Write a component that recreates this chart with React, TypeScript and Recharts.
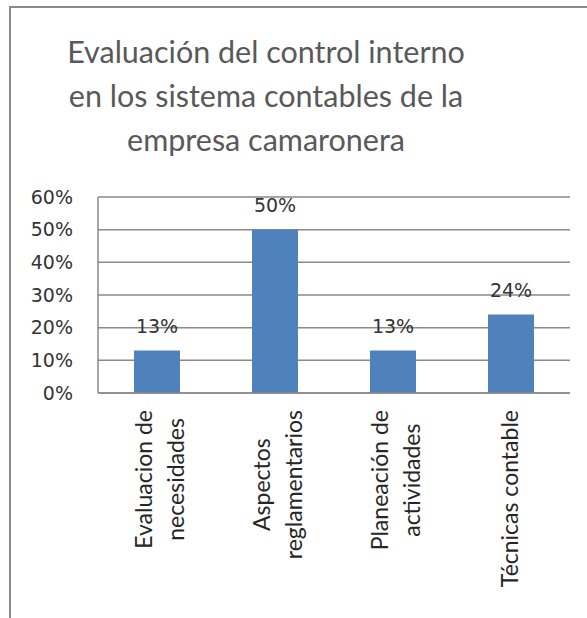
import { Bar, BarChart, CartesianGrid, LabelList, XAxis, YAxis } from "recharts";

const categories = [
  "Evaluacion de\nnecesidades",
  "Aspectos\nreglamentarios",
  "Planeación de\nactividades",
  "Técnicas contable",
];
const values = [13, 50, 13, 24];
const yTicks = [0, 10, 20, 30, 40, 50, 60];
const titleLines = [
  "Evaluación del control interno",
  "en los sistema contables de la",
  "empresa camaronera",
];

const data = categories.map((name, i) => ({ name, value: values[i] }));

const WIDTH = 587;
const HEIGHT = 618;
const GRID = "#8a8a8a";
const BAR_COLOR = "#4f81bd";
const CAT_SIZE = 23;
const NUM_FONT = "DejaVu Sans";

let ctx: CanvasRenderingContext2D | null = null;
const measure = (s: string) => {
  if (!ctx) ctx = document.createElement("canvas").getContext("2d");
  if (!ctx) return s.length * 11;
  ctx.font = `${CAT_SIZE}px Lato`;
  return ctx.measureText(s).width;
};

// rotated two-line labels, block starts just under the axis, lines centered to each other
const CategoryTick = ({ x, y, payload }: any) => {
  const lines = String(payload.value).split("\n");
  const longest = Math.max(...lines.map(measure));
  const cy = y + 17 + longest / 2;
  const shifts = lines.length === 1 ? [7] : [-5, 27];
  return (
    <g>
      {lines.map((line, i) => {
        const bx = x + shifts[i];
        return (
          <text
            key={i}
            x={bx}
            y={cy}
            transform={`rotate(-90, ${bx}, ${cy})`}
            textAnchor="middle"
            fontFamily="Lato"
            fontSize={CAT_SIZE}
            fill="#262626"
          >
            {line}
          </text>
        );
      })}
    </g>
  );
};

const App = () => {
  return (
    <div
      style={{
        position: "fixed",
        left: 0,
        top: 0,
        width: WIDTH,
        height: HEIGHT,
        overflow: "hidden",
        background: "#fff",
      }}
    >
      <div
        style={{
          position: "absolute",
          left: 9,
          top: 6,
          width: 700,
          height: 700,
          border: `2px solid ${GRID}`,
        }}
      />
      <svg
        width={WIDTH}
        height={180}
        style={{ position: "absolute", left: 0, top: 0 }}
      >
        {titleLines.map((t, i) => (
          <text
            key={i}
            x={266}
            y={63 + i * 44}
            textAnchor="middle"
            fontFamily="Lato"
            fontSize={30.5}
            fill="#595959"
          >
            {t}
          </text>
        ))}
      </svg>
      <div style={{ position: "absolute", left: 0, top: 0 }}>
        <BarChart
          width={WIDTH}
          height={HEIGHT}
          data={data}
          margin={{ top: 197, right: 17, bottom: 0, left: 0 }}
        >
          <CartesianGrid vertical={false} stroke={GRID} strokeWidth={1.5} />
          <XAxis
            dataKey="name"
            height={225}
            interval={0}
            tickSize={0}
            tickMargin={0}
            stroke={GRID}
            strokeWidth={1.5}
            tick={<CategoryTick />}
          />
          <YAxis
            width={98}
            domain={[0, 60]}
            ticks={yTicks}
            tickSize={0}
            tickMargin={25}
            stroke={GRID}
            strokeWidth={1.5}
            tickFormatter={(v) => `${v}%`}
            tick={{ fontFamily: NUM_FONT, fontSize: 19, fill: "#333" }}
          />
          <Bar
            dataKey="value"
            fill={BAR_COLOR}
            barSize={46}
            isAnimationActive={false}
          >
            <LabelList
              dataKey="value"
              position="top"
              offset={18}
              formatter={(v: any) => `${v}%`}
              style={{ fontFamily: NUM_FONT, fontSize: 19, fill: "#333" }}
            />
          </Bar>
        </BarChart>
      </div>
    </div>
  );
};

export default App;
